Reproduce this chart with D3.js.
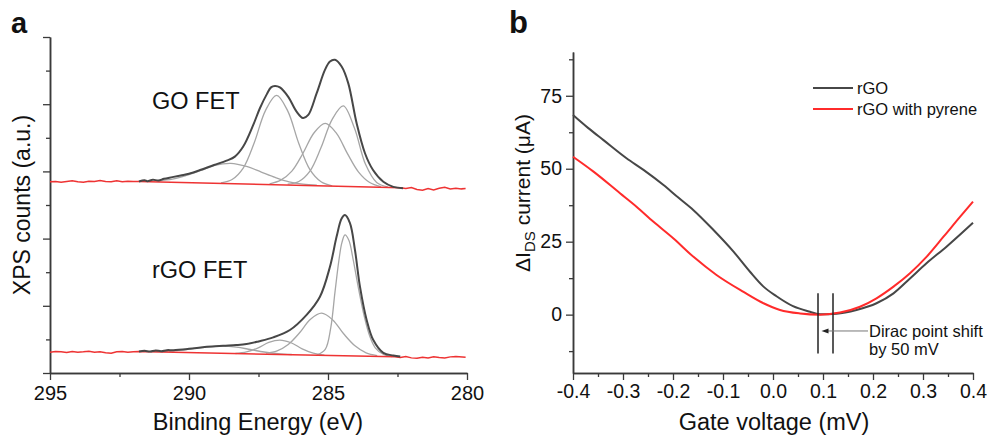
<!DOCTYPE html>
<html><head><meta charset="utf-8">
<script src="https://cdn.jsdelivr.net/npm/d3@7"></script>
<style>
body{margin:0;background:#fff}
svg{display:block}
text{font-family:Arial,"Liberation Sans",Helvetica,sans-serif;fill:#111}
</style>
</head><body>
<svg id="c" width="987" height="438"></svg>
<script>
// ---------- Panel a: XPS C1s spectra (arbitrary units) ----------
const aXMajor = [295, 290, 285, 280];
const aXMinor = [292.5, 287.5, 282.5];
const aYMajor = [0, 20, 40, 60, 80, 100];
const aYMinor = [10, 30, 50, 70, 90];

// GO FET
const goBackground = [[295,56.9],[294.8,57.0],[294.6,56.8],[294.4,57.0],[294.2,57.2],[294.0,56.9],[293.8,56.8],[293.6,57.1],[293.4,57.0],[293.2,57.3],[293.0,57.0],[292.8,56.9],[292.6,57.2],[292.4,56.9],[292.2,57.1],[292.0,57.0],[291.8,57.0],
  [282.4,55.1],[282.2,54.9],[282.0,55.2],[281.8,54.6],[281.6,54.4],[281.4,54.9],[281.2,54.5],[281.0,55.0],[280.8,55.3],[280.6,54.8],[280.4,55.0],[280.2,54.8],[280.05,54.9]];
const goEnvelope = [[291.8,57.0],[291.6,57.4],[291.5,57.1],[291.3,57.5],[291.1,57.3],[290.9,57.8],[290.6,58.3],[290.3,58.8],[290.0,59.3],[289.6,60.4],[289.1,61.9],[288.65,63.2],[288.35,64.4],[288.05,67.4],[287.7,73.6],[287.45,78.8],[287.2,83.0],[287.05,85.0],[286.91,85.4],[286.73,85.0],[286.43,82.2],[286.13,77.8],[285.9,75.9],[285.71,76.8],[285.41,83.2],[285.11,90.2],[284.93,92.7],[284.75,93.2],[284.51,91.2],[284.27,86.2],[283.97,74.3],[283.67,65.4],[283.38,60.4],[283.01,56.9],[282.65,55.4],[282.3,55.0]];
const goPeak1 = [[291.1,57.2],[290.6,57.7],[290.1,58.8],[289.6,60.2],[289.1,61.7],[288.5,62.4],[287.9,61.4],[287.4,59.8],[286.9,58.2],[286.4,56.9],[285.9,56.2],[285.4,55.9]];
const goPeak2 = [[288.85,56.6],[288.45,57.6],[288.05,61.0],[287.65,68.6],[287.25,78.1],[286.85,82.6],[286.45,78.0],[286.05,68.3],[285.65,60.5],[285.25,56.9],[284.85,55.7]];
const goPeak3 = [[287.1,56.3],[286.7,57.4],[286.3,60.1],[285.9,65.4],[285.5,71.5],[285.1,74.3],[284.7,71.4],[284.3,65.3],[283.9,59.8],[283.5,56.7],[283.1,55.5]];
const goPeak4 = [[286.45,56.2],[286.05,57.0],[285.65,60.1],[285.25,67.1],[284.85,75.5],[284.45,79.5],[284.05,72.9],[283.65,62.1],[283.25,56.7],[282.85,55.4]];

// rGO FET
const rgoBackground = [[295,6.2],[294.8,6.4],[294.6,6.3],[294.4,6.1],[294.2,6.4],[294.0,6.2],[293.8,6.3],[293.6,6.5],[293.4,6.2],[293.2,6.3],[293.0,6.0],[292.8,5.9],[292.6,6.3],[292.4,6.4],[292.2,6.2],[292.0,6.3],[291.8,6.4],
  [282.6,4.8],[282.4,4.6],[282.2,4.9],[282.0,4.5],[281.8,4.4],[281.6,4.7],[281.4,4.5],[281.2,4.8],[281.0,4.6],[280.8,4.5],[280.6,4.8],[280.4,4.9],[280.05,4.7]];
const rgoEnvelope = [[291.8,6.4],[291.6,6.6],[291.4,6.4],[291.2,6.7],[291.0,6.5],[290.8,6.8],[290.56,6.8],[290.0,7.2],[289.36,7.8],[288.77,8.1],[288.3,8.3],[287.93,8.6],[287.5,9.4],[286.97,10.6],[286.37,12.8],[285.77,17.3],[285.29,22.7],[284.93,31.6],[284.69,40.6],[284.51,46.0],[284.39,47.0],[284.21,44.6],[284.03,36.6],[283.85,25.7],[283.61,15.8],[283.37,9.8],[283.01,6.0],[282.65,5.2],[282.4,4.9]];
const rgoPeak1 = [[291.3,6.35],[290.8,6.45],[290.3,6.8],[289.8,7.3],[289.3,7.8],[288.8,8.0],[288.3,7.7],[287.8,7.0],[287.3,6.25],[286.8,5.75],[286.3,5.5]];
const rgoPeak2 = [[288.33,5.8],[287.93,6.3],[287.53,7.4],[287.13,9.1],[286.73,9.8],[286.33,9.0],[285.93,7.2],[285.53,5.9],[285.13,5.3]];
const rgoPeak3 = [[287.23,5.9],[286.83,6.6],[286.43,8.5],[286.03,11.9],[285.63,16.0],[285.23,17.8],[284.83,15.8],[284.43,11.6],[284.03,8.1],[283.63,6.0],[283.23,5.2]];
const rgoPeak4 = [[285.4,5.3],[285.1,7.0],[284.9,13.5],[284.75,24.0],[284.6,34.0],[284.5,38.8],[284.39,41.1],[284.25,39.5],[284.1,34.0],[283.9,25.0],[283.7,17.0],[283.5,11.0],[283.3,7.5],[283.0,5.5],[282.7,4.9]];

const spectrumLabels = [{text:"GO FET", e:291.33, v:78.6}, {text:"rGO FET", e:291.33, v:28.3}];

// ---------- Panel b: transfer curves ----------
const bXMajor = [-0.4,-0.3,-0.2,-0.1,0.0,0.1,0.2,0.3,0.4];
const bXLabels = ["-0.4","-0.3","-0.2","-0.1","0.0","0.1","0.2","0.3","0.4"];
const bXMinor = [-0.35,-0.25,-0.15,-0.05,0.05,0.15,0.25,0.35];
const bYMajor = [0,25,50,75];
const bYMinor = [-12.5,12.5,37.5,62.5,87.5];

const rgoCurve = [[-0.4,68.4],[-0.37,64.0],[-0.339,59.8],[-0.293,53.6],[-0.259,49.6],[-0.219,44.4],[-0.19,40.2],[-0.159,35.8],[-0.119,29.0],[-0.079,21.6],[-0.046,14.7],[-0.019,9.6],[0.007,6.3],[0.04,2.9],[0.074,1.0],[0.095,0.1],[0.127,0.3],[0.167,1.6],[0.207,3.9],[0.241,7.3],[0.274,12.4],[0.307,17.6],[0.347,23.3],[0.4,31.5]];
const pyreneCurve = [[-0.4,54.1],[-0.359,49.0],[-0.306,41.6],[-0.273,37.0],[-0.239,31.8],[-0.199,26.1],[-0.159,19.8],[-0.113,13.6],[-0.059,7.8],[-0.019,3.9],[0.014,1.6],[0.054,0.4],[0.094,0.0],[0.134,0.7],[0.174,2.7],[0.207,5.6],[0.241,9.6],[0.274,14.2],[0.307,19.8],[0.341,26.7],[0.374,33.5],[0.4,38.7]];
const seriesNames = ["rGO", "rGO with pyrene"];
const diracMarks = [0.09, 0.12];
const diracMarkRange = [7.3, -13.3];
const diracArrow = {from:0.19, to:0.097, v:-5.6};
const diracText = [{text:"Dirac point shift", x:0.192, v:-7.6}, {text:"by 50 mV", x:0.192, v:-13.9}];

// ---------- drawing ----------
const svg = d3.select("#c");
const AX = "#3a3a3a";
const DARK = "#474747", GREY = "#a6a6a6", RED = "#ee3333";

function styleAxis(g){
  g.selectAll(".domain").attr("stroke", AX).attr("stroke-width", 1.5);
  g.selectAll(".tick line").attr("stroke", AX).attr("stroke-width", 1.3);
  g.selectAll(".tick text").attr("fill", "#111").attr("font-family", "Arial, 'Liberation Sans', sans-serif");
}

// Panel a
const xA = d3.scaleLinear().domain([295, 280]).range([50, 467]);
const yA = d3.scaleLinear().domain([0, 100]).range([373, 37]);
const gA = svg.append("g");

gA.append("g").attr("transform","translate(0,373)")
  .call(d3.axisBottom(xA).tickValues(aXMinor).tickSize(4).tickSizeOuter(0).tickFormat(""))
  .call(styleAxis);
gA.append("g").attr("transform","translate(0,373)")
  .call(d3.axisBottom(xA).tickValues(aXMajor).tickSize(7).tickSizeOuter(0).tickPadding(6).tickFormat(d3.format("d")))
  .call(g=>g.selectAll(".tick text").attr("font-size",20))
  .call(styleAxis);
gA.append("g").attr("transform","translate(50,0)")
  .call(d3.axisLeft(yA).tickValues(aYMinor).tickSize(4).tickSizeOuter(0).tickFormat(""))
  .call(styleAxis);
gA.append("g").attr("transform","translate(50,0)")
  .call(d3.axisLeft(yA).tickValues(aYMajor).tickSize(7).tickSizeOuter(0).tickFormat(""))
  .call(styleAxis);

const lineA = d3.line().x(d=>xA(d[0])).y(d=>yA(d[1]));
const smoothA = d3.line().x(d=>xA(d[0])).y(d=>yA(d[1])).curve(d3.curveCatmullRom.alpha(0.5));

[goPeak1, goPeak2, goPeak3, goPeak4, rgoPeak1, rgoPeak2, rgoPeak3, rgoPeak4].forEach(p=>{
  gA.append("path").attr("d", smoothA(p)).attr("fill","none").attr("stroke",GREY).attr("stroke-width",1.3);
});
[goBackground, rgoBackground].forEach(p=>{
  gA.append("path").attr("d", lineA(p)).attr("fill","none").attr("stroke",RED).attr("stroke-width",1.5);
});
[goEnvelope, rgoEnvelope].forEach(p=>{
  gA.append("path").attr("d", smoothA(p)).attr("fill","none").attr("stroke",DARK).attr("stroke-width",2);
});
spectrumLabels.forEach(l=>{
  gA.append("text").attr("x", xA(l.e)).attr("y", yA(l.v)).attr("font-size", 23.5).text(l.text);
});
gA.append("text").attr("x", 258).attr("y", 430).attr("text-anchor","middle").attr("font-size", 23.5).text("Binding Energy (eV)");
gA.append("text").attr("transform","rotate(-90)").attr("x", -205).attr("y", 29.5)
  .attr("text-anchor","middle").attr("font-size", 23).text("XPS counts (a.u.)");
svg.append("text").attr("x", 11).attr("y", 33).attr("font-size", 29).attr("font-weight","bold").text("a");

// Panel b
const xB = d3.scaleLinear().domain([-0.4, 0.4]).range([573, 973]);
const yB = d3.scaleLinear().domain([-20, 90]).range([373, 52]);
const gB = svg.append("g");

gB.append("g").attr("transform","translate(0,373)")
  .call(d3.axisBottom(xB).tickValues(bXMinor).tickSize(4).tickSizeOuter(0).tickFormat(""))
  .call(styleAxis);
gB.append("g").attr("transform","translate(0,373)")
  .call(d3.axisBottom(xB).tickValues(bXMajor).tickSize(7).tickSizeOuter(0).tickPadding(4).tickFormat((d,i)=>bXLabels[i]))
  .call(g=>g.selectAll(".tick text").attr("font-size",19.5))
  .call(styleAxis);
gB.append("g").attr("transform","translate(573,0)")
  .call(d3.axisLeft(yB).tickValues(bYMinor).tickSize(4).tickSizeOuter(0).tickFormat(""))
  .call(styleAxis);
gB.append("g").attr("transform","translate(573,0)")
  .call(d3.axisLeft(yB).tickValues(bYMajor).tickSize(7).tickSizeOuter(0).tickPadding(4).tickFormat(d3.format("d")))
  .call(g=>g.selectAll(".tick text").attr("font-size",19.5))
  .call(styleAxis);

const lineB = d3.line().x(d=>xB(d[0])).y(d=>yB(d[1])).curve(d3.curveMonotoneX);
const colorsB = [DARK, "#ff2b2b"];
[rgoCurve, pyreneCurve].forEach((c,i)=>{
  gB.append("path").attr("d", lineB(c)).attr("fill","none").attr("stroke",colorsB[i]).attr("stroke-width",2);
});

// Dirac annotation
diracMarks.forEach(m=>{
  gB.append("line").attr("x1",xB(m)).attr("x2",xB(m)).attr("y1",yB(diracMarkRange[0])).attr("y2",yB(diracMarkRange[1]))
    .attr("stroke","#222").attr("stroke-width",1.5);
});
const ay = yB(diracArrow.v), ax0 = xB(diracArrow.from), ax1 = xB(diracArrow.to);
gB.append("line").attr("x1",ax0).attr("x2",ax1+5).attr("y1",ay).attr("y2",ay).attr("stroke","#777").attr("stroke-width",1);
gB.append("path").attr("d", d3.line()([[ax1,ay],[ax1+7,ay-2.5],[ax1+7,ay+2.5]])+"Z").attr("fill","#222");
diracText.forEach(t=>{
  gB.append("text").attr("x", xB(t.x)).attr("y", yB(t.v)).attr("font-size", 16.5).text(t.text);
});

// Legend
const legY = [88, 109];
seriesNames.forEach((n,i)=>{
  gB.append("line").attr("x1",813).attr("x2",853).attr("y1",legY[i]).attr("y2",legY[i]).attr("stroke",colorsB[i]).attr("stroke-width",2);
  gB.append("text").attr("x",857).attr("y",legY[i]+6).attr("font-size",16.5).text(n);
});

// Axis titles
gB.append("text").attr("x", 774).attr("y", 430).attr("text-anchor","middle").attr("font-size", 23.5).text("Gate voltage (mV)");
const yt = gB.append("text").attr("transform","rotate(-90)").attr("x", -193).attr("y", 530).attr("text-anchor","middle").attr("font-size", 21);
yt.append("tspan").text("\u0394I");
yt.append("tspan").attr("font-size", 15).attr("dy", 5).text("DS");
yt.append("tspan").attr("dy", -5).text(" current (\u03bcA)");
svg.append("text").attr("x", 509).attr("y", 33).attr("font-size", 31).attr("font-weight","bold").text("b");
</script>
</body></html>
